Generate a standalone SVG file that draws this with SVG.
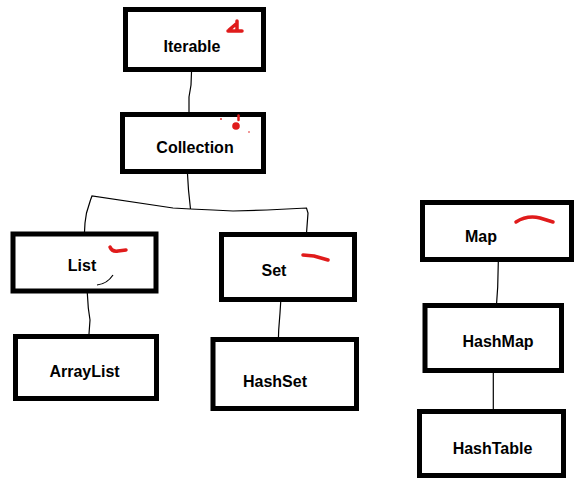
<svg xmlns="http://www.w3.org/2000/svg" width="580" height="489" viewBox="0 0 580 489">
<style>
.box{fill:#fff;stroke:#000;stroke-width:5}
.lbl{font-family:"Liberation Sans",Arial,sans-serif;font-weight:bold;font-size:16px;fill:#000;text-anchor:middle}
.con{fill:none;stroke:#000;stroke-width:1.2}
.red{fill:none;stroke:#e01b1b;stroke-width:3.5;stroke-linecap:round;stroke-linejoin:round}
</style>
<rect width="580" height="489" fill="#fff"/>
<g id="connectors">
<polyline class="con" points="191.5,72 191,85 189,97 189,117"/>
<polyline class="con" points="187.5,174 188.5,190 190.5,209"/>
<polyline class="con" points="190.5,209 173,208 92,196 90.5,200 86.5,213 85,223 84.5,232"/>
<polyline class="con" points="190.5,209 213,210 233,211 267,210 306.5,208 308,213 306,240"/>
<polyline class="con" points="87.3,293 88.3,308 90,320 89,334"/>
<polyline class="con" points="280.7,302 280,313 278.7,330 278.3,342"/>
<polyline class="con" points="498.3,262 497.7,287 496,312"/>
<polyline class="con" points="493.3,373 493.3,409"/>
</g>
<g id="iterable">
<rect class="box" x="125.5" y="9.5" width="138" height="60"/>
<text class="lbl" x="192" y="52">Iterable</text>
<path class="red" d="M228,31 L242,31 M237,21 L237,31 M229,30 L236,24"/>
</g>
<g id="collection">
<rect class="box" x="122.5" y="114.5" width="141" height="57"/>
<text class="lbl" x="195" y="153">Collection</text>
<circle cx="236" cy="126" r="3.8" fill="#e01b1b"/>
<path d="M238.5,115.5 L238.5,120" stroke="#e01b1b" stroke-width="2.5" stroke-linecap="round"/>
<circle cx="221" cy="119" r="0.9" fill="#e01b1b"/>
<circle cx="249" cy="132" r="0.8" fill="#e01b1b"/>
</g>
<g id="list">
<rect class="box" x="13" y="234" width="143" height="57"/>
<text class="lbl" x="82" y="271">List</text>
<path class="red" d="M110,247 Q112,252 118,251 L126,250"/>
<path class="con" d="M97,285 Q107,284 113,275"/>
</g>
<g id="set">
<rect class="box" x="221.5" y="234.5" width="133" height="65"/>
<text class="lbl" x="274" y="276">Set</text>
<path class="red" d="M303,255 L314,256 L328,260"/>
</g>
<g id="arraylist">
<rect class="box" x="15.5" y="336.5" width="141" height="62"/>
<text class="lbl" x="84.5" y="377">ArrayList</text>
</g>
<g id="hashset">
<rect class="box" x="213" y="339.5" width="143.5" height="69"/>
<text class="lbl" x="275" y="387">HashSet</text>
</g>
<g id="map">
<rect class="box" x="422.5" y="202.5" width="149" height="57"/>
<text class="lbl" x="481" y="242">Map</text>
<path class="red" d="M516,222 Q527,215 540,218 L553,222"/>
</g>
<g id="hashmap">
<rect class="box" x="425" y="305.5" width="136.5" height="65"/>
<text class="lbl" x="498" y="347">HashMap</text>
</g>
<g id="hashtable">
<rect class="box" x="419.5" y="411.5" width="144" height="64"/>
<text class="lbl" x="492.5" y="454">HashTable</text>
</g>
</svg>
